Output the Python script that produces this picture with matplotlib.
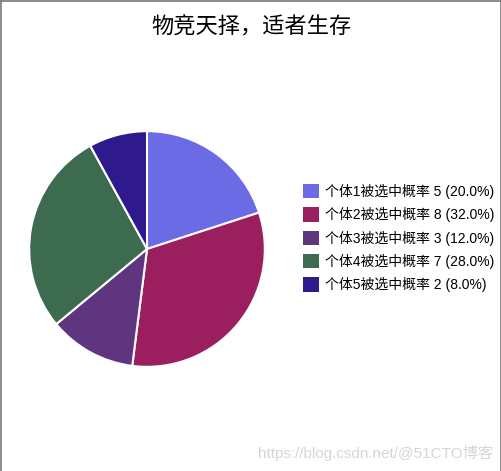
import matplotlib.pyplot as plt
from matplotlib.lines import Line2D

plt.rcParams['font.family'] = ['Noto Sans CJK SC', 'DejaVu Sans']

names = ['个体1被选中概率', '个体2被选中概率', '个体3被选中概率', '个体4被选中概率', '个体5被选中概率']
values = [5, 8, 3, 7, 2]
colors = ['#6b6be6', '#9b1f5f', '#5f3580', '#3d6b50', '#2e1a8c']

total = sum(values)
labels = ['%s %d (%.1f%%)' % (n, v, v * 100.0 / total) for n, v in zip(names, values)]

fig = plt.figure(figsize=(5.02, 4.71), dpi=100)

ax = fig.add_axes([28 / 502, 1 - 368 / 471, 238 / 502, 238 / 471])
wedges, _ = ax.pie(values, colors=colors, startangle=90, counterclock=False,
                   wedgeprops=dict(edgecolor='white', linewidth=1.5))
ax.set_xlim(-1.01, 1.01)
ax.set_ylim(-1.01, 1.01)
ax.set_aspect('equal')

fig.text(0.5, 1 - 27 / 471, '物竞天择，适者生存', ha='center', va='center', fontsize=16)

leg = fig.legend(wedges, labels, loc='center left', bbox_to_anchor=(290 / 502, 1 - 238 / 471),
                 frameon=False, prop=dict(family=['Liberation Sans', 'Noto Sans CJK SC'], size=10),
                 handlelength=1.2, handleheight=1.2, handletextpad=0.45, labelspacing=0.6)
for h in leg.legend_handles:
    h.set_linewidth(0)

# grey frame (top, left, right)
for xs, ys in [([0.002, 0.998], [0.998, 0.998]), ([0.002, 0.002], [0, 0.998]), ([0.998, 0.998], [0, 0.998])]:
    fig.add_artist(Line2D(xs, ys, transform=fig.transFigure, color='#777777', linewidth=1.2))

fig.text(0.982, 1 - 453 / 471, 'https://blog.csdn.net/@51CTO博客', ha='right', va='center',
         family=['Liberation Sans', 'Noto Sans CJK SC'], fontsize=11, color='#d5d5d5')

fig.savefig('out.png', dpi=100)
